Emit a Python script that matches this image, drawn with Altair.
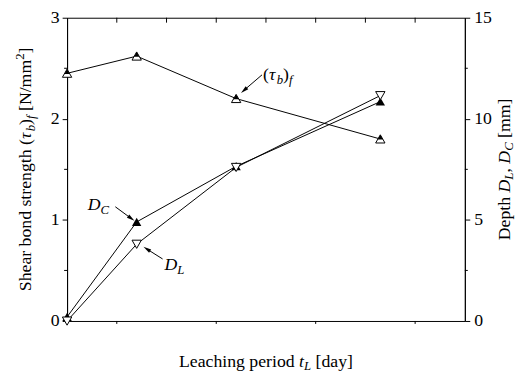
import math
import altair as alt
import pandas as pd

# ---- data ----
t_days = [0, 14, 34, 63]
tau_bf = [2.45, 2.62, 2.20, 1.80]
depth_DC = [0.2, 4.9, 7.65, 10.85]
depth_DL = [0.0, 3.8, 7.6, 11.15]

x_ticks = [0, 20, 40, 60, 80]
x_minor = [10, 30, 50, 70]
x_top = [10, 20, 30, 40, 50, 60, 70]
yl_ticks = [0, 1, 2, 3]
yl_minor = [0.5, 1.5, 2.5]
yr_ticks = [0, 5, 10, 15]
yr_minor = [2.5, 7.5, 12.5]

W, H = 404, 308
FONT = "Liberation Serif"

df = pd.DataFrame({"t": t_days, "tau": tau_bf, "DC": depth_DC, "DL": depth_DL})

xs = alt.Scale(domain=[0, 80], nice=False, zero=False)
yls = alt.Scale(domain=[0, 3], nice=False, zero=False)
yrs = alt.Scale(domain=[0, 15], nice=False, zero=False)

base = alt.Chart(df)

# ---- text width helper ----
REG = {' ': 250, '(': 333, ')': 333, '[': 333, ']': 333, '/': 278, ',': 250, 'S': 556, 'h': 500,
       'e': 444, 'a': 444, 'r': 333, 'b': 500, 'o': 500, 'n': 500, 'd': 500, 's': 389, 't': 278,
       'g': 500, 'N': 722, 'm': 778, '2': 500, 'D': 722, 'p': 500, 'L': 611, 'c': 444, 'i': 278,
       'y': 500}
ITA = {'τ': 440, 'b': 500, 'f': 278, 't': 278, 'L': 556, 'D': 722, 'C': 667}


def width(txt, size, italic):
    tab = ITA if italic else REG
    return sum(tab.get(c, 500) for c in txt) * size / 1000.0


def compose(pieces, center=None, start=None, base_pos=0, vertical=False):
    total = sum(width(p[0], p[1], p[2]) for p in pieces)
    if start is None:
        start = center + total / 2 if vertical else center - total / 2
    layers = []
    cum = 0
    for txt, size, italic, shift in pieces:
        lead = len(txt) - len(txt.lstrip(" "))
        cum += lead * width(" ", size, italic)
        body = txt.strip(" ")
        if vertical:
            px, py, ang = base_pos + shift, start - cum, 270
        else:
            px, py, ang = start + cum, base_pos + shift, 0
        if body:
            layers.append(
                alt.Chart(alt.Data(values=[{}])).mark_text(
                    text=body, align="left", baseline="alphabetic", angle=ang, font=FONT,
                    fontSize=size, fontStyle="italic" if italic else "normal", color="black"
                ).encode(x=alt.value(px), y=alt.value(py))
            )
        cum += width(txt.lstrip(" "), size, italic)
    return layers


def arrow(x1, y1, x2, y2):
    dx, dy = x2 - x1, y2 - y1
    ang = math.degrees(math.atan2(dx, -dy)) % 360
    L = math.hypot(dx, dy)
    ux, uy = dx / L, dy / L
    cx, cy = x2 - ux * 3.5, y2 - uy * 3.5
    shaft = alt.Chart(alt.Data(values=[{}])).mark_rule(color="black", strokeWidth=1).encode(
        x=alt.value(x1), y=alt.value(y1), x2=alt.value(cx), y2=alt.value(cy))
    head = alt.Chart(alt.Data(values=[{}])).mark_point(
        shape="M0,-1L0.5,1L-0.5,1Z", filled=True, color="black", size=64, opacity=1, angle=ang
    ).encode(x=alt.value(cx), y=alt.value(cy))
    return [shaft, head]


AX = dict(labelFont=FONT, labelFontSize=18, labelColor="black", title=None)

# ---- left group (tau) ----
x_enc = alt.X("t:Q", scale=xs, axis=alt.Axis(values=x_ticks, format="d", labelPadding=3, **AX))
x_noax = alt.X("t:Q", scale=xs, axis=None)

tau_line = base.mark_line(color="black", strokeWidth=1).encode(
    x=x_enc,
    y=alt.Y("tau:Q", scale=yls, axis=alt.Axis(values=yl_ticks, format="d", orient="left",
                                              labelPadding=3, **AX)))
tau_outer = base.mark_point(shape="M0,-0.9L1,0.85L-1,0.85Z", filled=True, fill="white", stroke="black",
                            strokeWidth=1, size=90, opacity=1).encode(x=x_noax, y=alt.Y("tau:Q", scale=yls))
tau_inner = base.mark_point(shape="M0,-0.9L0.58,0.12L-0.58,0.12Z", filled=True, color="black",
                            size=90, opacity=1).encode(x=x_noax, y=alt.Y("tau:Q", scale=yls))
yl_minor_l = alt.Chart(pd.DataFrame({"v": yl_minor})).mark_rule(color="black").encode(
    y=alt.Y("v:Q", scale=yls), x=alt.value(0), x2=alt.value(-3))

x_minor_l = alt.Chart(pd.DataFrame({"v": x_minor})).mark_rule(color="black").encode(
    x=alt.X("v:Q", scale=xs, axis=None), y=alt.value(H), y2=alt.value(H + 3))
x_top_l = alt.Chart(pd.DataFrame({"v": x_top})).mark_rule(color="black").encode(
    x=alt.X("v:Q", scale=xs, axis=None), y=alt.value(0), y2=alt.value(5))

# ---- right group (depths) ----
yr_enc = alt.Y("DC:Q", scale=yrs, axis=alt.Axis(values=yr_ticks, format="d", orient="right",
                                                labelPadding=4, **AX))
dc_line = base.mark_line(color="black", strokeWidth=1).encode(x=x_noax, y=yr_enc)
dl_line = base.mark_line(color="black", strokeWidth=1).encode(x=x_noax, y=alt.Y("DL:Q", scale=yrs))
dc_pts = base.mark_point(shape="M0,-0.9L1,0.85L-1,0.85Z", filled=True, color="black", size=90,
                         opacity=1).encode(x=x_noax, y=alt.Y("DC:Q", scale=yrs))
dl_pts = base.mark_point(shape="M0,0.9L1,-0.85L-1,-0.85Z", filled=True, fill="white", stroke="black",
                         strokeWidth=1, size=90, opacity=1).encode(x=x_noax, y=alt.Y("DL:Q", scale=yrs))
yr_minor_l = alt.Chart(pd.DataFrame({"v": yr_minor})).mark_rule(color="black").encode(
    y=alt.Y("v:Q", scale=yrs), x=alt.value(W), x2=alt.value(W + 3))

# ---- text / annotations ----
texts = []
texts += compose([("Leaching period ", 18, False, 0), ("t", 18, True, 0), ("L", 13, True, 3),
                  (" [day]", 18, False, 0)], center=W / 2, base_pos=H + 47)
texts += compose([("Shear bond strength (", 18, False, 0), ("τ", 18, True, 0), ("b", 13, True, 4),
                  (")", 18, False, 0), ("f", 13, True, 4), (" [N/mm", 18, False, 0),
                  ("2", 13, False, -7), ("]", 18, False, 0)],
                 center=H / 2, base_pos=-37, vertical=True)
texts += compose([("Depth ", 18, False, 0), ("D", 18, True, 0), ("L", 13, True, 3), (", ", 18, False, 0),
                  ("D", 18, True, 0), ("C", 13, True, 3), (" [mm]", 18, False, 0)],
                 center=H / 2, base_pos=W + 46, vertical=True)
texts += compose([("(", 18, False, 0), ("τ", 18, True, 0), ("b", 13, True, 4), (")", 18, False, 0),
                  ("f", 13, True, 4)], start=199, base_pos=63)
texts += compose([("D", 18, True, 0), ("C", 13, True, 4)], start=21, base_pos=195)
texts += compose([("D", 18, True, 0), ("L", 13, True, 4)], start=99, base_pos=256)

arrows = []
arrows += arrow(198, 58, 177, 76)
arrows += arrow(49, 192, 68, 206)
arrows += arrow(97, 245, 78, 233)

left_group = alt.layer(tau_line, tau_outer, tau_inner, yl_minor_l, x_minor_l, x_top_l, *texts, *arrows)
right_group = alt.layer(dc_line, dl_line, dc_pts, dl_pts, yr_minor_l)

chart = alt.layer(left_group, right_group).resolve_scale(y="independent").properties(
    width=W, height=H,
    autosize=alt.AutoSizeParams(type="none"),
    padding={"left": 60, "top": 7, "right": 55, "bottom": 53},
).configure_view(stroke="black", strokeWidth=1).configure_axis(
    labelFont=FONT, labelFontSize=18, labelColor="black", tickColor="black", domainColor="black",
    tickSize=5, grid=False, domainWidth=1, tickWidth=1, labelFlush=False, labelOverlap=False
).configure_text(font=FONT)

chart.save("out.html", embed_options={"renderer": "svg", "actions": False})
